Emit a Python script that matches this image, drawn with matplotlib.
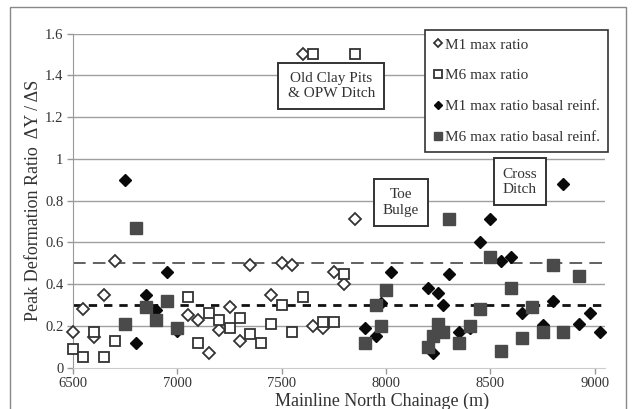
import matplotlib
matplotlib.use('Agg')
import matplotlib.pyplot as plt
from matplotlib.patches import Rectangle

# M1 max ratio (open diamonds)
m1_x = [6500, 6550, 6600, 6650, 6700, 7050, 7100, 7150, 7200, 7250, 7300, 7350,
        7450, 7500, 7550, 7600, 7650, 7700, 7750, 7800, 7850]
m1_y = [0.17, 0.28, 0.145, 0.35, 0.51, 0.25, 0.23, 0.07, 0.18, 0.29, 0.13, 0.49,
        0.35, 0.50, 0.49, 1.50, 0.20, 0.19, 0.46, 0.40, 0.71]

# M6 max ratio (open squares)
m6_x = [6500, 6550, 6600, 6650, 6700, 7050, 7100, 7150, 7200, 7250, 7300, 7350,
        7400, 7450, 7500, 7550, 7600, 7650, 7700, 7750, 7800, 7850]
m6_y = [0.09, 0.05, 0.17, 0.05, 0.13, 0.34, 0.12, 0.26, 0.23, 0.19, 0.24, 0.16,
        0.12, 0.21, 0.30, 0.17, 0.34, 1.50, 0.22, 0.22, 0.45, 1.50]

# M1 max ratio basal reinf. (filled diamonds)
m1b_x = [6750, 6800, 6850, 6900, 6950, 7000, 7900, 7950, 7975, 8025, 8200, 8225,
         8250, 8275, 8300, 8350, 8400, 8450, 8500, 8550, 8600, 8650, 8750, 8800,
         8850, 8925, 8975, 9025]
m1b_y = [0.90, 0.12, 0.35, 0.275, 0.46, 0.175, 0.19, 0.15, 0.31, 0.46, 0.38, 0.07,
         0.36, 0.30, 0.45, 0.17, 0.19, 0.60, 0.71, 0.51, 0.53, 0.26, 0.205, 0.32,
         0.88, 0.21, 0.26, 0.17]

# M6 max ratio basal reinf. (filled squares)
m6b_x = [6750, 6800, 6850, 6900, 6950, 7000, 7900, 7950, 7975, 8000, 8200, 8225,
         8250, 8275, 8300, 8350, 8400, 8450, 8500, 8550, 8600, 8650, 8700, 8750,
         8800, 8850, 8925]
m6b_y = [0.21, 0.67, 0.29, 0.23, 0.32, 0.19, 0.12, 0.30, 0.20, 0.37, 0.10, 0.15,
         0.21, 0.17, 0.71, 0.12, 0.20, 0.28, 0.53, 0.08, 0.38, 0.14, 0.29, 0.17,
         0.49, 0.17, 0.44]

x_ticks = [6500, 7000, 7500, 8000, 8500, 9000]
y_ticks = [0, 0.2, 0.4, 0.6, 0.8, 1.0, 1.2, 1.4, 1.6]
y_labels = ['0', '0.2', '0.4', '0.6', '0.8', '1', '1.2', '1.4', '1.6']

plt.rcParams['font.family'] = ['Liberation Serif', 'DejaVu Serif']

fig = plt.figure(figsize=(6.35, 4.09), dpi=100)
ax = fig.add_axes([0.115, 0.101, 0.838, 0.817])

# outer frame of the picture
fig.patches.append(Rectangle((0.016, -0.05), 0.97, 1.033, transform=fig.transFigure,
                             fill=False, edgecolor='#888888', lw=1.0))

for y in y_ticks[1:]:
    ax.axhline(y, color='#a0a0a0', lw=1.0, zorder=0)
ax.axhline(0.5, color='#555555', lw=1.3, dashes=(7, 4), zorder=1)
ax.axhline(0.3, color='#111111', lw=2.0, dashes=(3, 2.5), zorder=1)

ax.plot(m1_x, m1_y, 'D', ms=6.5, mfc='white', mec='#333333', mew=1.3,
        label='M1 max ratio', zorder=3, clip_on=False)
ax.plot(m6_x, m6_y, 's', ms=7.5, mfc='white', mec='#333333', mew=1.3,
        label='M6 max ratio', zorder=3, clip_on=False)
ax.plot(m1b_x, m1b_y, 'D', ms=6.5, color='#0a0a0a', label='M1 max ratio basal reinf.',
        zorder=4, clip_on=False)
ax.plot(m6b_x, m6b_y, 's', ms=8.5, color='#4a4a4a', label='M6 max ratio basal reinf.',
        zorder=4, clip_on=False)

ax.set_xlim(6500, 9050)
ax.set_ylim(0, 1.6)
ax.set_xticks(x_ticks)
ax.set_yticks(y_ticks)
ax.set_yticklabels(y_labels)
ax.tick_params(axis='both', labelsize=10.5, length=4, width=1, direction='out')
ax.tick_params(axis='x', colors='#999999', labelcolor='#333333', pad=3)
ax.tick_params(axis='y', colors='#999999', labelcolor='#333333', pad=3)

for s in ['top', 'right']:
    ax.spines[s].set_visible(False)
ax.spines['left'].set_color('#999999')
ax.spines['bottom'].set_color('#cccccc')

ax.set_ylabel('Peak Deformation Ratio  \u0394Y / \u0394S', fontsize=13, color='#333333', labelpad=2)
ax.set_xlabel('Mainline North Chainage (m)', fontsize=13, color='#333333')
ax.xaxis.set_label_coords(0.58, -0.076)

box = dict(boxstyle='square,pad=0.6', fc='white', ec='#333333', lw=1.4)
ax.text(7737, 1.35, 'Old Clay Pits\n& OPW Ditch', fontsize=11, color='#333333',
        ha='center', va='center', bbox=box, zorder=5, linespacing=1.2)
ax.text(8072, 0.79, 'Toe\nBulge', fontsize=11, color='#333333',
        ha='center', va='center', bbox=box, zorder=5, linespacing=1.25)
ax.text(8642, 0.89, 'Cross\nDitch', fontsize=11, color='#333333',
        ha='center', va='center', bbox=box, zorder=5, linespacing=1.25)

leg = ax.legend(loc='upper right', bbox_to_anchor=(1.005, 1.01), fontsize=11,
                frameon=True, fancybox=False, framealpha=1, edgecolor='#333333',
                markerscale=0.7, handlelength=0.6, handletextpad=0.2,
                labelspacing=1.12, borderpad=0.5, borderaxespad=0)
leg.get_frame().set_linewidth(1.2)
leg.set_zorder(6)
for t in leg.get_texts():
    t.set_color('#333333')

fig.savefig('out.png', dpi=100)
